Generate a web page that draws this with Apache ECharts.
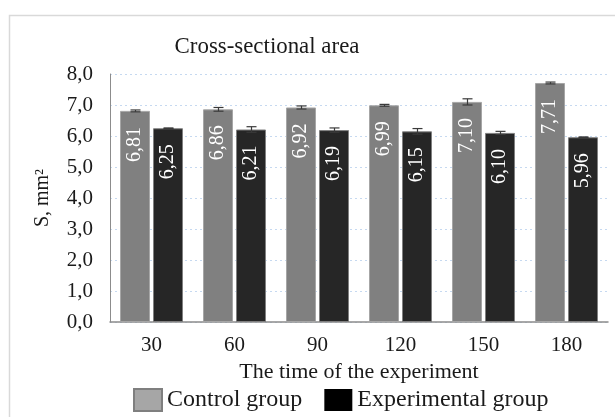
<!DOCTYPE html>
<html>
<head>
<meta charset="utf-8">
<script src="https://cdn.jsdelivr.net/npm/echarts@6/dist/echarts.min.js"></script>
<style>
  html, body { margin: 0; padding: 0; background: #fff; }
  #chart { width: 615px; height: 417px; }
</style>
</head>
<body>
<div id="chart"></div>
<script>
// Days of the experiment
const categories = ['30', '60', '90', '120', '150', '180'];
// Mean cross-sectional area, mm²
const controlValues = [6.81, 6.86, 6.92, 6.99, 7.10, 7.71];
const experimentalValues = [6.25, 6.21, 6.19, 6.15, 6.10, 5.96];
// Error bar half-widths, mm²
const controlErrors = [0.03, 0.06, 0.05, 0.03, 0.10, 0.03];
const experimentalErrors = [0.01, 0.09, 0.07, 0.09, 0.05, 0.01];
// Y axis ticks
const yTicks = [0, 1, 2, 3, 4, 5, 6, 7, 8];

const FONT = 'Liberation Serif';
const BAR_WIDTH = 30;
const BAR_GAP_PX = 3;
const OFFSET = (BAR_WIDTH + BAR_GAP_PX) / 2;

const fmt = v => v.toFixed(2).replace('.', ',');

function errorSeries(values, errors, offset) {
  return {
    type: 'custom',
    silent: true,
    z: 10,
    data: values.map((v, i) => [i, v, errors[i]]),
    renderItem(params, api) {
      const idx = api.value(0);
      const v = api.value(1);
      const e = api.value(2);
      const hi = api.coord([idx, v + e]);
      const lo = api.coord([idx, v - e]);
      const x = Math.round(hi[0] + offset) + 0.5;
      const cap = 5;
      const style = { stroke: '#3a3a3a', lineWidth: 1.2, fill: null };
      return {
        type: 'group',
        children: [
          { type: 'line', shape: { x1: x, y1: hi[1], x2: x, y2: lo[1] }, style },
          { type: 'line', shape: { x1: x - cap, y1: hi[1], x2: x + cap, y2: hi[1] }, style },
          { type: 'line', shape: { x1: x - cap, y1: lo[1], x2: x + cap, y2: lo[1] }, style }
        ]
      };
    }
  };
}

const valueLabel = {
  show: true,
  position: 'insideTop',
  distance: 16,
  rotate: 90,
  align: 'right',
  verticalAlign: 'middle',
  color: '#ffffff',
  fontFamily: FONT,
  fontSize: 20,
  formatter: p => fmt(p.value)
};

const chart = echarts.init(document.getElementById('chart'), null, { renderer: 'canvas' });

chart.setOption({
  backgroundColor: '#ffffff',
  animation: false,
  textStyle: { fontFamily: FONT },
  graphic: [
    {
      type: 'rect',
      silent: true,
      shape: { x: 9.5, y: 15.5, width: 640, height: 440 },
      style: { fill: null, stroke: '#d9d9d9', lineWidth: 1.5 }
    },
    {
      // chart heading
      type: 'text',
      silent: true,
      x: 267,
      y: 47,
      scaleX: 1.04,
      scaleY: 1.04,
      style: {
        text: 'Cross-sectional area',
        fontFamily: FONT,
        fontSize: 22,
        fill: '#1a1a1a',
        align: 'center',
        verticalAlign: 'middle'
      }
    }
  ],
  legend: {
    left: 133,
    top: 388,
    padding: 0,
    itemWidth: 28,
    itemHeight: 22,
    itemGap: 22,
    textStyle: {
      fontFamily: FONT,
      fontSize: 24,
      color: '#1a1a1a'
    },
    data: [
      { name: 'Control group', icon: 'rect', itemStyle: { color: '#a6a6a6', borderColor: '#7f7f7f', borderWidth: 2 } },
      { name: 'Experimental group', icon: 'rect', itemStyle: { color: '#000000', borderWidth: 0 } }
    ]
  },
  grid: { left: 110, right: 7, top: 74, bottom: 95, containLabel: false },
  xAxis: {
    type: 'category',
    data: categories,
    name: 'The time of the experiment',
    nameLocation: 'middle',
    nameGap: 37,
    nameTextStyle: { fontFamily: FONT, fontSize: 22, color: '#1a1a1a' },
    axisLine: { show: true, lineStyle: { color: '#8c8c8c', width: 1.5 } },
    axisTick: { show: false },
    axisLabel: { fontFamily: FONT, fontSize: 21, color: '#1a1a1a', margin: 13 }
  },
  yAxis: {
    type: 'value',
    min: yTicks[0],
    max: yTicks[yTicks.length - 1],
    interval: 1,
    name: 'S, mm²',
    nameLocation: 'middle',
    nameGap: 57,
    nameRotate: 90,
    nameTextStyle: { fontFamily: FONT, fontSize: 20, color: '#1a1a1a' },
    axisLine: { show: true, lineStyle: { color: '#8c8c8c', width: 1 } },
    axisTick: { show: false },
    axisLabel: {
      fontFamily: FONT,
      fontSize: 21,
      color: '#1a1a1a',
      margin: 17,
      formatter: v => v.toFixed(1).replace('.', ',')
    },
    splitLine: { show: true, lineStyle: { color: '#c6d9f0', type: [2, 3], width: 1.2 } }
  },
  series: [
    {
      name: 'Control group',
      type: 'bar',
      data: controlValues,
      barWidth: BAR_WIDTH,
      barGap: (BAR_GAP_PX / BAR_WIDTH * 100) + '%',
      itemStyle: { color: '#808080', borderColor: '#a6a6a6', borderWidth: 1 },
      label: valueLabel
    },
    {
      name: 'Experimental group',
      type: 'bar',
      data: experimentalValues,
      barWidth: BAR_WIDTH,
      itemStyle: { color: '#262626', borderColor: '#808080', borderWidth: 1 },
      label: valueLabel
    },
    errorSeries(controlValues, controlErrors, -OFFSET),
    errorSeries(experimentalValues, experimentalErrors, OFFSET)
  ]
});
</script>
</body>
</html>
